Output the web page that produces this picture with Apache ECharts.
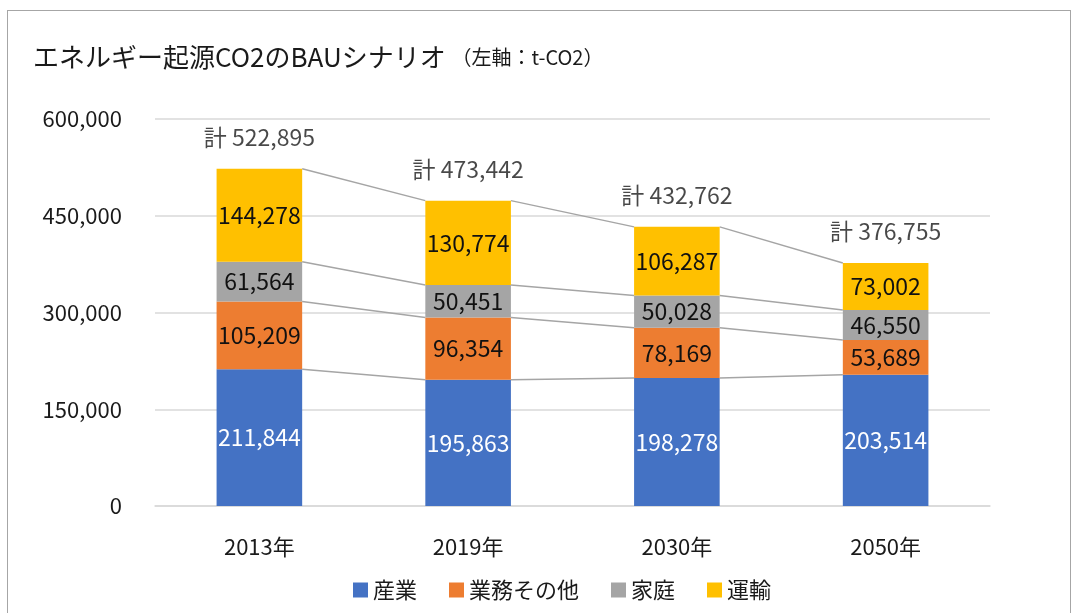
<!DOCTYPE html>
<html>
<head>
<meta charset="utf-8">
<title>エネルギー起源CO2のBAUシナリオ</title>
<script src="https://cdn.jsdelivr.net/npm/echarts@6/dist/echarts.min.js"></script>
<style>
  html, body { margin: 0; padding: 0; background: #fff; }
  #frame { position: absolute; left: 7px; top: 10px; width: 1064px; height: 620px; border: 1px solid #a6a6a6; box-sizing: border-box; }
  #main { position: absolute; left: 0; top: 0; width: 1080px; height: 613px; }
</style>
</head>
<body>
<div id="frame"></div>
<div id="main"></div>
<script>
var years = ['2013年', '2019年', '2030年', '2050年'];
var sangyo = [211844, 195863, 198278, 203514];
var gyomu = [105209, 96354, 78169, 53689];
var katei = [61564, 50451, 50028, 46550];
var unyu = [144278, 130774, 106287, 73002];
var yTicks = [0, 150000, 300000, 450000, 600000];

var colors = ['#4472C4', '#ED7D31', '#A5A5A5', '#FFC000'];
var fontJP = '"Noto Sans CJK JP", "Noto Sans", sans-serif';
var ink = '#1a1a1a';

var totals = years.map(function (y, i) { return sangyo[i] + gyomu[i] + katei[i] + unyu[i]; });
// cumulative tops per level for the connector lines
var cum = years.map(function (y, i) {
    var a = sangyo[i], b = a + gyomu[i], c = b + katei[i], d = c + unyu[i];
    return [i, a, b, c, d];
});

var barRatio = 0.41;
function fmt(v) { return v.toLocaleString('en-US'); }

function barSeries(name, data, idx, labelColor) {
    return {
        name: name, type: 'bar', stack: 'all', data: data,
        barWidth: (barRatio * 100) + '%',
        itemStyle: { color: colors[idx] },
        label: {
            show: true, position: 'inside', color: labelColor,
            fontFamily: fontJP, fontSize: 23,
            formatter: function (p) { return fmt(p.value); }
        },
        z: 3
    };
}

var myChart = echarts.init(document.getElementById('main'));
var option = {
    animation: false,
    textStyle: { fontFamily: fontJP },
    title: {
        text: 'エネルギー起源CO2のBAUシナリオ {s|（左軸：t-CO2）}',
        left: 28, top: 39,
        textStyle: {
            fontFamily: fontJP, fontSize: 26, fontWeight: 'normal', color: ink,
            rich: { s: { fontFamily: fontJP, fontSize: 20, color: ink } }
        }
    },
    legend: {
        bottom: 7, left: 348,
        itemWidth: 15, itemHeight: 15, itemGap: 32,
        icon: 'rect',
        textStyle: { fontFamily: fontJP, fontSize: 22, color: ink },
        data: ['産業', '業務その他', '家庭', '運輸']
    },
    grid: { left: 155, right: 90, top: 119, bottom: 107 },
    xAxis: {
        type: 'category', data: years,
        axisLine: { show: true, lineStyle: { color: '#d9d9d9', width: 1.5 } },
        axisTick: { show: false },
        axisLabel: { fontFamily: fontJP, fontSize: 22, color: ink, margin: 30 }
    },
    yAxis: {
        type: 'value', min: yTicks[0], max: yTicks[yTicks.length - 1], interval: 150000,
        axisLine: { show: false }, axisTick: { show: false },
        splitLine: { lineStyle: { color: '#d9d9d9', width: 1.5 } },
        axisLabel: { fontFamily: fontJP, fontSize: 22, color: ink, margin: 33,
            formatter: function (v) { return fmt(v); } }
    },
    series: [
        barSeries('産業', sangyo, 0, '#fff'),
        barSeries('業務その他', gyomu, 1, '#111'),
        barSeries('家庭', katei, 2, '#111'),
        barSeries('運輸', unyu, 3, '#111'),
        {
            name: 'connectors', type: 'custom', data: cum, z: 2,
            encode: { x: 0, y: 4 },
            silent: true,
            renderItem: function (params, api) {
                var i = api.value(0);
                if (i >= cum.length - 1) return null;
                var bw = api.size([1, 0])[0] * barRatio;
                var children = [];
                for (var k = 1; k <= 4; k++) {
                    var p1 = api.coord([i, cum[i][k]]);
                    var p2 = api.coord([i + 1, cum[i + 1][k]]);
                    children.push({
                        type: 'line',
                        shape: { x1: p1[0] + bw / 2, y1: p1[1], x2: p2[0] - bw / 2, y2: p2[1] },
                        style: { stroke: '#A5A5A5', lineWidth: 1.5 }
                    });
                }
                return { type: 'group', children: children };
            }
        },
        {
            name: 'total', type: 'scatter', data: totals, symbolSize: 0,
            label: {
                show: true, position: 'top', distance: 20, color: ink,
                fontFamily: fontJP, fontSize: 23,
                formatter: function (p) { return '計 ' + fmt(p.value); }
            }
        }
    ]
};
myChart.setOption(option);
</script>
</body>
</html>
